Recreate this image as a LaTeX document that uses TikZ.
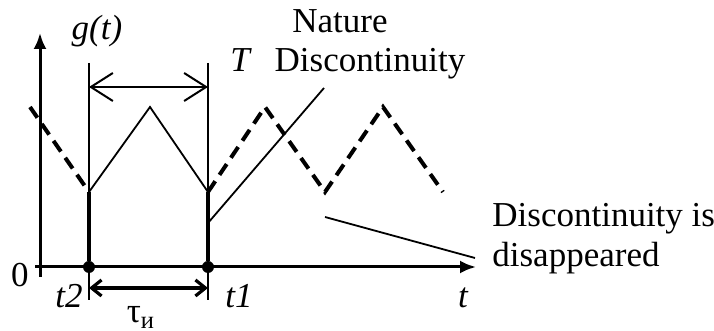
\documentclass[tikz,border=0pt]{standalone}
\usepackage{fontspec}
\setmainfont{Liberation Serif}
\usetikzlibrary{arrows.meta, positioning}
\tikzset{
  axis/.style={line width=1.5pt, -{Latex[length=8pt, width=6.5pt]}},
  sig/.style={line width=0.9pt},
  sigdash/.style={line width=2pt, dash pattern=on 6.5pt off 3.8pt},
  jump/.style={line width=1.8pt},
  guide/.style={line width=0.9pt},
  dimT/.style={line width=1pt,
    {Straight Barb[length=11pt, width=14pt]}-{Straight Barb[length=11pt, width=14pt]}},
  dimtau/.style={line width=1.6pt,
    {Straight Barb[length=5pt, width=8pt]}-{Straight Barb[length=5pt, width=8pt]}},
  pointer/.style={line width=0.9pt},
  lbl/.style={font=\fontsize{17.5}{20}\selectfont, inner sep=0pt, anchor=base},
  dot/.style={circle, fill, inner sep=0pt, minimum size=6pt},
}

\begin{document}
\begin{tikzpicture}[x=0.5pt, y=-0.5pt]
    \useasboundingbox (0,0) rectangle (714,331);
    % axes
    \coordinate (ybot) at (40,277);
    \coordinate (ytop) at (40,33);
    \coordinate (xl) at (35,267);
    \coordinate (xr) at (476,267);
    \draw[axis] (ybot) -- (ytop);
    \draw[axis] (xl) -- (xr);
    % jump instants
    \node[dot] (t2) at (89,267) {};
    \node[dot] (t1) at (208,267) {};
    \coordinate (t2top) at (89,63);  \coordinate (t2bot) at (89,300);
    \coordinate (t1top) at (208,63); \coordinate (t1bot) at (208,300);
    \draw[guide] (t2top) -- (t2bot);
    \draw[guide] (t1top) -- (t1bot);
    % signal
    \coordinate (p0) at (30,107);  \coordinate (v2) at (89,192);
    \coordinate (pk) at (150,107); \coordinate (v1) at (208,192);
    \coordinate (p1) at (265,107); \coordinate (v3) at (325,192);
    \coordinate (p2) at (383,107); \coordinate (v4) at (443,192);
    \draw[sigdash] (p0) -- (v2);
    \draw[sig] (v2) -- (pk) -- (v1);
    \draw[sigdash] (v1) -- (p1) -- (v3) -- (p2) -- (v4);
    \draw[jump] (t2) -- (v2);
    \draw[jump] (t1) -- (v1);
    % period and pulse width
    \coordinate (Ta) at (89,87);  \coordinate (Tb) at (208,87);
    \coordinate (ua) at (89,288); \coordinate (ub) at (208,288);
    \draw[dimT] (Ta) -- (Tb);
    \draw[dimtau] (ua) -- (ub);
    % labels
    \node[lbl] (gt) at (97,40) {\itshape g(t)};
    \node[lbl] (T) at (240,72) {\itshape T};
    \node[lbl] (zero) at (20,287) {0};
    \node[lbl] (lt2) at (69,308) {\itshape t2};
    \node[lbl] (lt1) at (239,308) {\itshape t1};
    \node[lbl] (tau) at (141,323) {τ\textsubscript{и}};
    \node[lbl] (t) at (463,308) {\itshape t};
    \node[lbl] (nat) at (340,33) {Nature};
    \node[lbl] (disc) at (370,72) {Discontinuity};
    \node[lbl, anchor=base west] (dis1) at (492,227) {Discontinuity is};
    \node[lbl, anchor=base west] (dis2) at (492,267) {disappeared};
    % pointers
    \coordinate (nd) at (324,88);  \coordinate (ndend) at (208,223);
    \coordinate (dd) at (325,217); \coordinate (ddend) at (475,258);
    \draw[pointer] (nd) -- (ndend);
    \draw[pointer] (dd) -- (ddend);
\end{tikzpicture}
\end{document}
